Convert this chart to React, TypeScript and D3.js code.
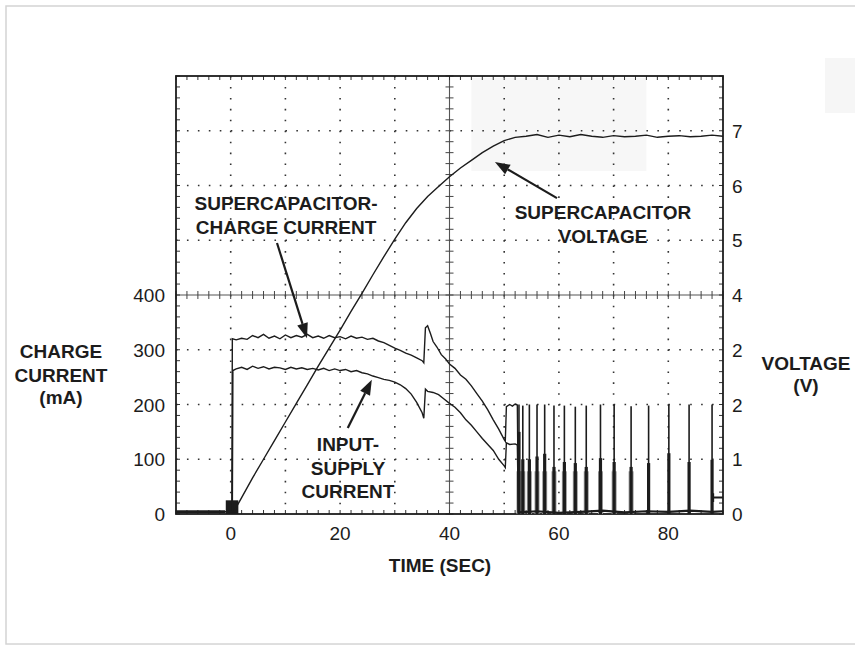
import React from "react";
import * as d3 from "d3";

// time (s) / value pairs
const chargeCurrent: [number, number][] = [
  [-10, 4], [-5, 4], [0.2, 4], [0.3, 320], [1, 318], [2, 321], [3, 319], [4, 326], [5, 322],
  [6, 328], [7, 321], [8, 325], [9, 320], [10, 327], [11, 322], [12, 326], [13, 323], [14, 328],
  [15, 322], [16, 325], [17, 321], [18, 326], [19, 322], [20, 324], [21, 320], [22, 325], [23, 321],
  [24, 323], [25, 319], [26, 321], [27, 316], [28, 313], [29, 308], [30, 303], [31, 299], [32, 294],
  [33, 290], [34, 285], [35, 280], [35.3, 276], [35.6, 340], [36, 344], [36.5, 330], [37, 315],
  [37.7, 305], [38.5, 291], [39.3, 283], [40, 274], [41, 266], [42, 254], [43, 246], [44, 234],
  [45, 220], [46, 206], [47, 190], [48, 172], [49, 155], [50, 136], [50.2, 133], [50.4, 196],
  [51, 200], [51.5, 197], [52, 201], [52.4, 199], [52.6, 3],
];

const inputCurrent: [number, number][] = [
  [0.3, 3], [0.4, 262], [1, 265], [2, 268], [3, 264], [4, 270], [5, 266], [6, 269], [7, 265],
  [8, 268], [9, 267], [10, 264], [11, 268], [12, 265], [13, 267], [14, 264], [15, 266], [16, 263],
  [17, 266], [18, 262], [19, 265], [20, 262], [21, 264], [22, 260], [23, 262], [24, 258], [25, 256],
  [26, 252], [27, 249], [28, 246], [29, 244], [30, 241], [31, 236], [32, 229], [33, 219], [34, 204],
  [35, 185], [35.3, 175], [35.6, 228], [36, 224], [37, 222], [38, 218], [39, 210], [40, 202],
  [41, 195], [42, 185], [43, 172], [44, 162], [45, 150], [46, 138], [47, 127], [48, 116], [49, 100],
  [50, 88], [50.2, 85], [50.4, 130], [51, 127], [52, 128], [52.4, 126], [52.6, 3],
];

const baselineAfter: [number, number][] = [
  [52.6, 3], [56, 5], [60, 2], [64, 4], [68, 6], [72, 3], [76, 5], [80, 4], [84, 6], [88, 4], [90, 5],
];

const capVoltage: [number, number][] = [
  [0.5, 0.03], [1, 0.12], [2, 0.3], [4, 0.66], [6, 1.0], [8, 1.34], [10, 1.68], [12, 2.02],
  [14, 2.36], [16, 2.7], [18, 3.03], [20, 3.36], [22, 3.7], [24, 4.03], [26, 4.37], [28, 4.7],
  [30, 5.02], [32, 5.32], [34, 5.58], [36, 5.8], [38, 5.98], [40, 6.16], [42, 6.32], [44, 6.46],
  [46, 6.6], [48, 6.72], [50, 6.82], [52, 6.88], [54, 6.9], [56, 6.93], [58, 6.88], [60, 6.92],
  [62, 6.89], [64, 6.93], [66, 6.9], [68, 6.88], [70, 6.91], [72, 6.89], [74, 6.9], [76, 6.92],
  [78, 6.88], [80, 6.9], [82, 6.91], [84, 6.89], [86, 6.9], [88, 6.92], [90, 6.9],
];

const pulseTimes = [52.7, 53.4, 54.6, 56.0, 57.4, 59.1, 61.0, 63.0, 65.0, 67.6, 70.1, 73.2, 76.4, 80.1, 83.8, 88.0];
const pulseChargePeak = [200, 198, 200, 200, 200, 198, 198, 196, 198, 200, 200, 197, 198, 200, 200, 200];
const pulseInputPeak = [150, 100, 100, 105, 110, 86, 95, 93, 86, 102, 95, 86, 93, 111, 95, 99];

const timeTicks = [0, 20, 40, 60, 80];
const currentTicks = [0, 100, 200, 300, 400];
const voltageTicks = [0, 1, 2, 3, 4, 5, 6, 7];
const voltageTickLabels = ["0", "1", "2", "2", "4", "5", "6", "7"];

const W = 855;
const H = 645;
const FONT = "'Liberation Sans', Arial, Helvetica, sans-serif";
const INK = "#1c1c1c";

export default function App() {
  const x = d3.scaleLinear().domain([-10, 90]).range([176, 723]);
  const yI = d3.scaleLinear().domain([0, 800]).range([514, 76]);
  const yV = d3.scaleLinear().domain([0, 8]).range([514, 76]);

  const lineI = d3.line<[number, number]>().x((d) => x(d[0])).y((d) => yI(d[1]));
  const lineV = d3.line<[number, number]>().x((d) => x(d[0])).y((d) => yV(d[1]));

  const [x0, x1] = x.range();
  const [yb, yt] = yV.range();
  const minorX = d3.range(-10, 90.01, 2);
  const minorY = d3.range(0, 8.01, 0.2);
  const gridX = d3.range(0, 81, 10);
  const gridY = d3.range(1, 8, 1);
  const step = x(2) - x(0);

  const arrow = (fx: number, fy: number, tx: number, ty: number, key: string) => {
    const ang = Math.atan2(ty - fy, tx - fx);
    const L = 15, Wd = 5.5;
    const bx = tx - L * Math.cos(ang), by = ty - L * Math.sin(ang);
    const px = -Math.sin(ang) * Wd, py = Math.cos(ang) * Wd;
    return (
      <g key={key}>
        <line x1={fx} y1={fy} x2={bx} y2={by} stroke={INK} strokeWidth={2.2} />
        <path d={`M${tx},${ty}L${bx + px},${by + py}L${bx - px},${by - py}Z`} fill={INK} />
      </g>
    );
  };

  const boldText = { fontFamily: FONT, fontWeight: 700, fontSize: 19, fill: INK } as const;
  const plainText = { fontFamily: FONT, fontSize: 19, fill: INK } as const;

  return (
    <svg width={W} height={H} style={{ position: "absolute", left: 0, top: 0, background: "#fff" }}>
      <rect x={6} y={6} width={W} height={638} fill="none" stroke="#d4d4d4" strokeWidth={1.5} />
      {/* scan shading */}
      <rect x={x(44)} y={yt + 2} width={x(76) - x(44)} height={yV(6.3) - yt} fill="#f7f7f7" />
      <rect x={825} y={58} width={30} height={55} fill="#f6f6f6" />

      {/* dotted grid */}
      {gridX.filter((t) => t !== 40).map((t) => (
        <line key={"gx" + t} x1={x(t)} x2={x(t)} y1={yt} y2={yb} stroke="#333" strokeWidth={1.6}
          strokeDasharray={`1.6 ${step - 1.6}`} />
      ))}
      {gridY.filter((v) => v !== 4).map((v) => (
        <line key={"gy" + v} x1={x0} x2={x1} y1={yV(v)} y2={yV(v)} stroke="#333" strokeWidth={1.6}
          strokeDasharray={`1.6 ${step - 1.6}`} />
      ))}

      {/* center axes with cross ticks */}
      <line x1={x(40)} x2={x(40)} y1={yt} y2={yb} stroke="#555" strokeWidth={1.1} />
      <line x1={x0} x2={x1} y1={yV(4)} y2={yV(4)} stroke="#555" strokeWidth={1.1} />
      {minorY.map((v, i) => (
        <line key={"cy" + i} x1={x(40) - 4} x2={x(40) + 4} y1={yV(v)} y2={yV(v)} stroke="#444" strokeWidth={1} />
      ))}
      {minorX.map((t, i) => (
        <line key={"cx" + i} x1={x(t)} x2={x(t)} y1={yV(4) - 4} y2={yV(4) + 4} stroke="#444" strokeWidth={1} />
      ))}

      {/* border minor ticks */}
      {minorY.map((v, i) => (
        <g key={"by" + i}>
          <line x1={x0} x2={x0 + 4} y1={yV(v)} y2={yV(v)} stroke="#333" strokeWidth={1} />
          <line x1={x1 - 4} x2={x1} y1={yV(v)} y2={yV(v)} stroke="#333" strokeWidth={1} />
        </g>
      ))}
      {minorX.map((t, i) => (
        <g key={"bx" + i}>
          <line x1={x(t)} x2={x(t)} y1={yt} y2={yt + 4} stroke="#333" strokeWidth={1} />
          <line x1={x(t)} x2={x(t)} y1={yb - 4} y2={yb} stroke="#333" strokeWidth={1} />
        </g>
      ))}
      <rect x={x0} y={yt} width={x1 - x0} height={yb - yt} fill="none" stroke={INK} strokeWidth={1.8} />

      {/* traces */}
      <line x1={x(-10)} x2={x(-1)} y1={yI(4)} y2={yI(4)} stroke={INK} strokeWidth={3} />
      <rect x={x(-0.9)} y={yI(25)} width={x(1.4) - x(-0.9)} height={yI(0) - yI(25)} fill={INK} />
      {pulseTimes.map((t, i) => (
        t < 74 ? (
          <line key={"pg" + i} x1={x(t)} x2={x(t)} y1={yI(0)} y2={yI(78)} stroke="#999" strokeWidth={5} />
        ) : null
      ))}
      <path d={lineI(chargeCurrent) ?? ""} fill="none" stroke={INK} strokeWidth={1.4} />
      <path d={lineI(inputCurrent) ?? ""} fill="none" stroke={INK} strokeWidth={1.4} />
      <path d={lineI(baselineAfter) ?? ""} fill="none" stroke={INK} strokeWidth={2.2} />
      {pulseTimes.map((t, i) => (
        <g key={"p" + i}>
          <line x1={x(t)} x2={x(t)} y1={yI(0)} y2={yI(pulseChargePeak[i])} stroke={INK} strokeWidth={1.6} />
          <line x1={x(t)} x2={x(t)} y1={yI(0)} y2={yI(pulseInputPeak[i])} stroke={INK} strokeWidth={3.2} />
        </g>
      ))}
      <path d={lineV(capVoltage) ?? ""} fill="none" stroke={INK} strokeWidth={1.4} />
      <path d={`M${x(88.2)},${yI(30)}h${x(90) - x(88.2)}M${x(88.2)},${yI(22)}v${yI(38) - yI(22)}`} stroke={INK} strokeWidth={2} fill="none" />

      {/* annotations */}
      {arrow(x(8.46), yI(495), x(13.95), yI(321), "a1")}
      {arrow(x(59.65), yV(5.77), x(48.3), yV(6.43), "a2")}
      {arrow(x(21.4), yI(157), x(25.8), yI(245), "a3")}
      <text {...boldText} textAnchor="middle" x={286} y={210}>SUPERCAPACITOR-</text>
      <text {...boldText} textAnchor="middle" x={286} y={234}>CHARGE CURRENT</text>
      <text {...boldText} textAnchor="middle" x={603} y={219}>SUPERCAPACITOR</text>
      <text {...boldText} textAnchor="middle" x={603} y={243}>VOLTAGE</text>
      <text {...boldText} textAnchor="middle" x={348} y={451}>INPUT-</text>
      <text {...boldText} textAnchor="middle" x={348} y={475}>SUPPLY</text>
      <text {...boldText} textAnchor="middle" x={348} y={498}>CURRENT</text>

      {/* axis labels */}
      {currentTicks.map((v) => (
        <text key={"li" + v} {...plainText} textAnchor="end" x={165} y={yI(v) + 7}>{v}</text>
      ))}
      {voltageTicks.map((v, i) => (
        <text key={"rv" + v} {...plainText} textAnchor="start" x={732} y={yV(v) + 7}>{voltageTickLabels[i]}</text>
      ))}
      {timeTicks.map((t) => (
        <text key={"bt" + t} {...plainText} textAnchor="middle" x={x(t)} y={540}>{t}</text>
      ))}
      <text {...boldText} textAnchor="middle" x={61} y={358}>CHARGE</text>
      <text {...boldText} textAnchor="middle" x={61} y={382}>CURRENT</text>
      <text {...boldText} textAnchor="middle" x={61} y={404}>(mA)</text>
      <text {...boldText} textAnchor="middle" x={806} y={370}>VOLTAGE</text>
      <text {...boldText} textAnchor="middle" x={806} y={392}>(V)</text>
      <text {...boldText} textAnchor="middle" x={440} y={572}>TIME (SEC)</text>
    </svg>
  );
}
